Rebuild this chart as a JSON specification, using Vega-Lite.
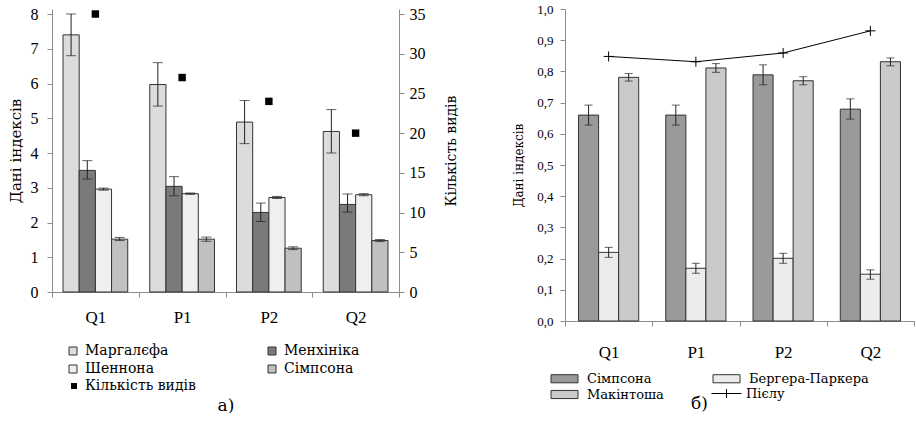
{
  "$schema": "https://vega.github.io/schema/vega-lite/v6.json",
  "padding": {"left": 8, "top": 3, "right": 0, "bottom": 0},
  "spacing": 54,
  "resolve": {"scale": {"color": "independent", "stroke": "independent", "shape": "independent", "xOffset": "independent"}, "legend": {"color": "independent", "stroke": "independent", "shape": "independent"}},
  "config": {
    "view": {"stroke": null},
    "font": "DejaVu Serif",
    "axis": {"domainColor": "#8c8c8c", "tickColor": "#8c8c8c", "labelColor": "#000", "titleColor": "#000", "labelFont": "Liberation Serif", "titleFont": "DejaVu Serif", "titleFontWeight": "normal", "grid": false, "labelOverlap": false},
    "legend": {"labelFont": "DejaVu Serif", "labelColor": "#000", "padding": 0}
  },
  "datasets": {
    "left": [
      {"cat": "Q1", "s": "Маргалєфа", "v": 7.4, "lo": 6.8, "hi": 8.0},
      {"cat": "Q1", "s": "Менхініка", "v": 3.5, "lo": 3.25, "hi": 3.78},
      {"cat": "Q1", "s": "Шеннона", "v": 2.96, "lo": 2.93, "hi": 2.99},
      {"cat": "Q1", "s": "Сімпсона", "v": 1.52, "lo": 1.48, "hi": 1.57},
      {"cat": "P1", "s": "Маргалєфа", "v": 5.97, "lo": 5.35, "hi": 6.6},
      {"cat": "P1", "s": "Менхініка", "v": 3.04, "lo": 2.77, "hi": 3.32},
      {"cat": "P1", "s": "Шеннона", "v": 2.83, "lo": 2.81, "hi": 2.85},
      {"cat": "P1", "s": "Сімпсона", "v": 1.52, "lo": 1.46, "hi": 1.58},
      {"cat": "P2", "s": "Маргалєфа", "v": 4.89, "lo": 4.27, "hi": 5.51},
      {"cat": "P2", "s": "Менхініка", "v": 2.29, "lo": 2.03, "hi": 2.56},
      {"cat": "P2", "s": "Шеннона", "v": 2.72, "lo": 2.69, "hi": 2.75},
      {"cat": "P2", "s": "Сімпсона", "v": 1.26, "lo": 1.22, "hi": 1.3},
      {"cat": "Q2", "s": "Маргалєфа", "v": 4.62, "lo": 4.0, "hi": 5.25},
      {"cat": "Q2", "s": "Менхініка", "v": 2.52, "lo": 2.3, "hi": 2.82},
      {"cat": "Q2", "s": "Шеннона", "v": 2.8, "lo": 2.77, "hi": 2.83},
      {"cat": "Q2", "s": "Сімпсона", "v": 1.48, "lo": 1.45, "hi": 1.51}
    ],
    "count": [
      {"cat": "Q1", "n": 35},
      {"cat": "P1", "n": 27},
      {"cat": "P2", "n": 24},
      {"cat": "Q2", "n": 20}
    ],
    "right": [
      {"cat": "Q1", "s": "Сімпсона", "v": 0.66, "lo": 0.628, "hi": 0.692},
      {"cat": "Q1", "s": "Бергера-Паркера", "v": 0.22, "lo": 0.204, "hi": 0.236},
      {"cat": "Q1", "s": "Макінтоша", "v": 0.781, "lo": 0.769, "hi": 0.793},
      {"cat": "P1", "s": "Сімпсона", "v": 0.66, "lo": 0.628, "hi": 0.692},
      {"cat": "P1", "s": "Бергера-Паркера", "v": 0.169, "lo": 0.153, "hi": 0.185},
      {"cat": "P1", "s": "Макінтоша", "v": 0.811, "lo": 0.797, "hi": 0.825},
      {"cat": "P2", "s": "Сімпсона", "v": 0.789, "lo": 0.757, "hi": 0.821},
      {"cat": "P2", "s": "Бергера-Паркера", "v": 0.201, "lo": 0.185, "hi": 0.217},
      {"cat": "P2", "s": "Макінтоша", "v": 0.77, "lo": 0.757, "hi": 0.783},
      {"cat": "Q2", "s": "Сімпсона", "v": 0.679, "lo": 0.647, "hi": 0.712},
      {"cat": "Q2", "s": "Бергера-Паркера", "v": 0.15, "lo": 0.134, "hi": 0.164},
      {"cat": "Q2", "s": "Макінтоша", "v": 0.831, "lo": 0.818, "hi": 0.843}
    ],
    "pielou": [
      {"cat": "Q1", "p": 0.848},
      {"cat": "P1", "p": 0.831},
      {"cat": "P2", "p": 0.859},
      {"cat": "Q2", "p": 0.93}
    ]
  },
  "hconcat": [
    {
      "width": 347,
      "height": 283,
      "layer": [
        {
          "data": {"name": "left"},
          "layer": [
            {
              "mark": {"type": "bar", "stroke": "#333", "strokeWidth": 1},
              "encoding": {
                "x": {"field": "cat", "type": "nominal", "sort": ["Q1", "P1", "P2", "Q2"],
                  "scale": {"paddingInner": 0, "paddingOuter": 0},
                  "axis": {"title": "а)", "titleFontSize": 17, "titlePadding": 72, "labelAngle": 0, "labelFontSize": 17, "labelPadding": 12, "tickSize": 5, "tickBand": "extent"}},
                "xOffset": {"field": "s", "type": "nominal", "sort": ["Маргалєфа", "Менхініка", "Шеннона", "Сімпсона"],
                  "scale": {"domain": ["Маргалєфа", "Менхініка", "Шеннона", "Сімпсона"], "paddingOuter": 0.68, "paddingInner": 0}},
                "y": {"field": "v", "type": "quantitative", "scale": {"domain": [0, 8.144], "nice": false},
                  "axis": {"title": "Дані індексів", "titleFontSize": 15, "titlePadding": 7, "values": [0, 1, 2, 3, 4, 5, 6, 7, 8], "format": "d", "tickCount": 20, "labelOverlap": false, "labelFontSize": 16, "labelPadding": 9, "tickSize": 5}},
                "color": {"field": "s", "type": "nominal", "sort": ["Маргалєфа", "Менхініка", "Шеннона", "Сімпсона"],
                  "scale": {"domain": ["Маргалєфа", "Менхініка", "Шеннона", "Сімпсона"], "range": ["#dcdcdc", "#7a7a7a", "#efefef", "#c0c0c0"]},
                  "legend": {"orient": "none", "direction": "horizontal", "legendX": 14, "legendY": 335, "columns": 2, "columnPadding": 96, "rowPadding": 4, "title": null, "symbolType": "square", "symbolSize": 64, "symbolStrokeColor": "#333", "symbolStrokeWidth": 1, "labelFontSize": 14, "labelOffset": 5}}
              }
            },
            {
              "mark": {"type": "rule", "color": "#222", "strokeWidth": 1},
              "encoding": {
                "x": {"field": "cat", "type": "nominal", "sort": ["Q1", "P1", "P2", "Q2"]},
                "xOffset": {"field": "s", "type": "nominal", "sort": ["Маргалєфа", "Менхініка", "Шеннона", "Сімпсона"]},
                "y": {"field": "lo", "type": "quantitative",
                  "axis": {"title": "Дані індексів", "titleFontSize": 15, "titlePadding": 7, "values": [0, 1, 2, 3, 4, 5, 6, 7, 8], "format": "d", "tickCount": 20, "labelOverlap": false, "labelFontSize": 16, "labelPadding": 9, "tickSize": 5}},
                "y2": {"field": "hi"}
              }
            },
            {
              "mark": {"type": "tick", "color": "#222", "thickness": 1, "size": 10},
              "encoding": {
                "x": {"field": "cat", "type": "nominal", "sort": ["Q1", "P1", "P2", "Q2"]},
                "xOffset": {"field": "s", "type": "nominal", "sort": ["Маргалєфа", "Менхініка", "Шеннона", "Сімпсона"]},
                "y": {"field": "lo", "type": "quantitative",
                  "axis": {"title": "Дані індексів", "titleFontSize": 15, "titlePadding": 7, "values": [0, 1, 2, 3, 4, 5, 6, 7, 8], "format": "d", "tickCount": 20, "labelOverlap": false, "labelFontSize": 16, "labelPadding": 9, "tickSize": 5}}
              }
            },
            {
              "mark": {"type": "tick", "color": "#222", "thickness": 1, "size": 10},
              "encoding": {
                "x": {"field": "cat", "type": "nominal", "sort": ["Q1", "P1", "P2", "Q2"]},
                "xOffset": {"field": "s", "type": "nominal", "sort": ["Маргалєфа", "Менхініка", "Шеннона", "Сімпсона"]},
                "y": {"field": "hi", "type": "quantitative",
                  "axis": {"title": "Дані індексів", "titleFontSize": 15, "titlePadding": 7, "values": [0, 1, 2, 3, 4, 5, 6, 7, 8], "format": "d", "tickCount": 20, "labelOverlap": false, "labelFontSize": 16, "labelPadding": 9, "tickSize": 5}}
              }
            }
          ]
        },
        {
          "data": {"name": "count"},
          "mark": {"type": "point", "filled": true, "color": "#000", "opacity": 1},
          "encoding": {
            "x": {"field": "cat", "type": "nominal", "sort": ["Q1", "P1", "P2", "Q2"]},
            "y": {"field": "n", "type": "quantitative", "scale": {"domain": [0, 35.63], "nice": false},
              "axis": {"orient": "right", "title": "Кількість видів", "titleAngle": 270, "titleFontSize": 14, "titlePadding": 33, "values": [0, 5, 10, 15, 20, 25, 30, 35], "format": "d", "tickCount": 20, "labelOverlap": false, "labelFontSize": 16, "labelPadding": 5, "tickSize": 5}},
            "shape": {"datum": "Кількість видів", "scale": {"range": ["square"]},
              "legend": {"orient": "none", "legendX": 15, "legendY": 370, "title": null, "symbolSize": 36, "symbolFillColor": "#000", "symbolStrokeWidth": 0, "labelFontSize": 14, "labelOffset": 4}},
            "size": {"value": 55}
          }
        }
      ],
      "resolve": {"scale": {"y": "independent"}}
    },
    {
      "width": 349,
      "height": 312,
      "layer": [
        {
          "data": {"name": "right"},
          "mark": {"type": "bar", "stroke": "#333", "strokeWidth": 1},
          "encoding": {
            "x": {"field": "cat", "type": "nominal", "sort": ["Q1", "P1", "P2", "Q2"],
              "scale": {"paddingInner": 0, "paddingOuter": 0},
              "axis": {"title": "б)", "titleFontSize": 17, "titlePadding": 35, "titleX": 134, "labelAngle": 0, "labelFontSize": 17, "labelPadding": 18, "tickSize": 5, "tickBand": "extent"}},
            "xOffset": {"field": "s", "type": "nominal", "sort": ["Сімпсона", "Бергера-Паркера", "Макінтоша"],
              "scale": {"domain": ["Сімпсона", "Бергера-Паркера", "Макінтоша"], "paddingOuter": 0.675, "paddingInner": 0}},
            "y": {"field": "v", "type": "quantitative", "scale": {"domain": [0, 1]},
              "axis": {"title": "Дані індексів", "titleFontSize": 12, "titlePadding": 11, "values": [0, 0.1, 0.2, 0.3, 0.4, 0.5, 0.6, 0.7, 0.8, 0.9, 1.0], "tickCount": 20, "labelOverlap": false, "labelExpr": "replace(format(datum.value, '.1f'), '.', ',')", "labelFontSize": 13, "labelPadding": 7, "tickSize": 5}},
            "color": {"field": "s", "type": "nominal",
              "scale": {"domain": ["Сімпсона", "Бергера-Паркера", "Макінтоша"], "range": ["#9a9a9a", "#ececec", "#cacaca"]},
              "legend": {"orient": "none", "direction": "horizontal", "legendX": -7, "legendY": 363, "columns": 2, "columnPadding": 47, "rowPadding": 2, "title": null, "symbolType": "M-3,-0.9H3V0.9H-3Z", "symbolSize": 81, "symbolStrokeColor": "#333", "symbolStrokeWidth": 1, "labelFontSize": 13, "labelOffset": 16}}
          }
        },
        {
          "data": {"name": "right"},
          "mark": {"type": "rule", "color": "#222", "strokeWidth": 1},
          "encoding": {
            "x": {"field": "cat", "type": "nominal", "sort": ["Q1", "P1", "P2", "Q2"]},
            "xOffset": {"field": "s", "type": "nominal", "sort": ["Сімпсона", "Бергера-Паркера", "Макінтоша"]},
            "y": {"field": "lo", "type": "quantitative",
              "axis": {"title": "Дані індексів", "titleFontSize": 12, "titlePadding": 11, "values": [0, 0.1, 0.2, 0.3, 0.4, 0.5, 0.6, 0.7, 0.8, 0.9, 1.0], "tickCount": 20, "labelOverlap": false, "labelExpr": "replace(format(datum.value, '.1f'), '.', ',')", "labelFontSize": 13, "labelPadding": 7, "tickSize": 5}},
            "y2": {"field": "hi"}
          }
        },
        {
          "data": {"name": "right"},
          "mark": {"type": "tick", "color": "#222", "thickness": 1, "size": 8},
          "encoding": {
            "x": {"field": "cat", "type": "nominal", "sort": ["Q1", "P1", "P2", "Q2"]},
            "xOffset": {"field": "s", "type": "nominal", "sort": ["Сімпсона", "Бергера-Паркера", "Макінтоша"]},
            "y": {"field": "lo", "type": "quantitative",
              "axis": {"title": "Дані індексів", "titleFontSize": 12, "titlePadding": 11, "values": [0, 0.1, 0.2, 0.3, 0.4, 0.5, 0.6, 0.7, 0.8, 0.9, 1.0], "tickCount": 20, "labelOverlap": false, "labelExpr": "replace(format(datum.value, '.1f'), '.', ',')", "labelFontSize": 13, "labelPadding": 7, "tickSize": 5}}
          }
        },
        {
          "data": {"name": "right"},
          "mark": {"type": "tick", "color": "#222", "thickness": 1, "size": 8},
          "encoding": {
            "x": {"field": "cat", "type": "nominal", "sort": ["Q1", "P1", "P2", "Q2"]},
            "xOffset": {"field": "s", "type": "nominal", "sort": ["Сімпсона", "Бергера-Паркера", "Макінтоша"]},
            "y": {"field": "hi", "type": "quantitative",
              "axis": {"title": "Дані індексів", "titleFontSize": 12, "titlePadding": 11, "values": [0, 0.1, 0.2, 0.3, 0.4, 0.5, 0.6, 0.7, 0.8, 0.9, 1.0], "tickCount": 20, "labelOverlap": false, "labelExpr": "replace(format(datum.value, '.1f'), '.', ',')", "labelFontSize": 13, "labelPadding": 7, "tickSize": 5}}
          }
        },
        {
          "data": {"name": "pielou"},
          "mark": {"type": "line", "strokeWidth": 1},
          "encoding": {
            "x": {"field": "cat", "type": "nominal", "sort": ["Q1", "P1", "P2", "Q2"]},
            "y": {"field": "p", "type": "quantitative",
              "axis": {"title": "Дані індексів", "titleFontSize": 12, "titlePadding": 11, "values": [0, 0.1, 0.2, 0.3, 0.4, 0.5, 0.6, 0.7, 0.8, 0.9, 1.0], "tickCount": 20, "labelOverlap": false, "labelExpr": "replace(format(datum.value, '.1f'), '.', ',')", "labelFontSize": 13, "labelPadding": 7, "tickSize": 5}},
            "stroke": {"datum": "Пієлу", "scale": {"range": ["#000"]},
              "legend": {"orient": "none", "legendX": 155, "legendY": 378, "title": null, "symbolType": "M-3.33,0H3.33M0,-1V1", "symbolSize": 81, "symbolStrokeWidth": 1, "symbolStrokeColor": "#000", "labelFontSize": 13, "labelOffset": 13}}
          }
        },
        {
          "data": {"name": "pielou"},
          "mark": {"type": "point", "shape": "M-1,0H1M0,-1V1", "filled": false, "stroke": "#000", "strokeWidth": 1, "size": 100, "opacity": 1},
          "encoding": {
            "x": {"field": "cat", "type": "nominal", "sort": ["Q1", "P1", "P2", "Q2"]},
            "y": {"field": "p", "type": "quantitative",
              "axis": {"title": "Дані індексів", "titleFontSize": 12, "titlePadding": 11, "values": [0, 0.1, 0.2, 0.3, 0.4, 0.5, 0.6, 0.7, 0.8, 0.9, 1.0], "tickCount": 20, "labelOverlap": false, "labelExpr": "replace(format(datum.value, '.1f'), '.', ',')", "labelFontSize": 13, "labelPadding": 7, "tickSize": 5}}
          }
        }
      ]
    }
  ]
}
